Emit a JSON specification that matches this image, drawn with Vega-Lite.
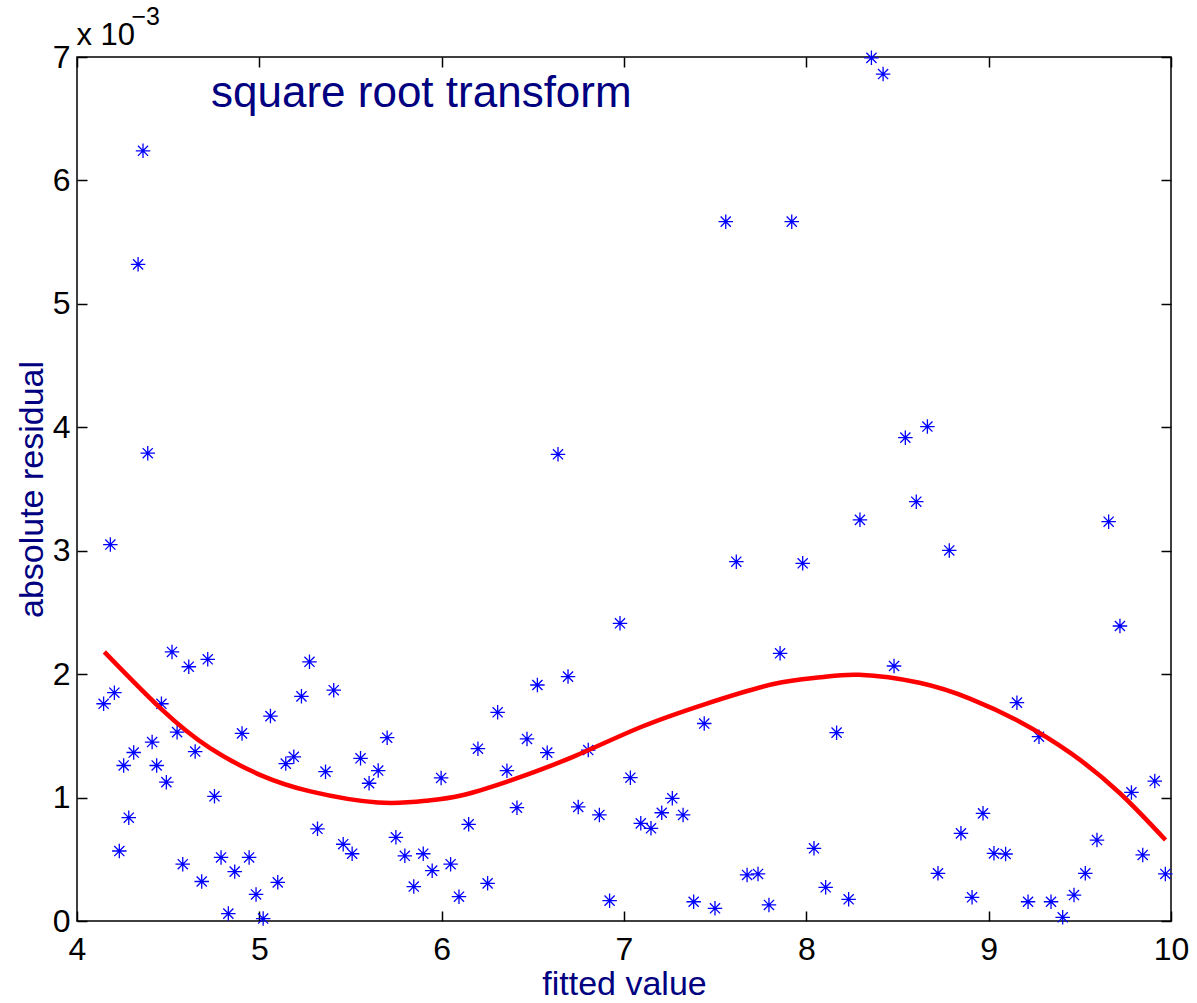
{
  "$schema": "https://vega.github.io/schema/vega-lite/v6.json",
  "width": 1094,
  "height": 864,
  "autosize": {"type": "none"},
  "padding": {"left": 77, "top": 57, "right": 26, "bottom": 82},
  "background": "white",
  "config": {
    "view": {"stroke": "black", "strokeWidth": 1.5},
    "font": "Liberation Sans"
  },
  "datasets": {
    "points": [
      {"fitted": 4.146, "residual": 0.00176},
      {"fitted": 4.183, "residual": 0.00305},
      {"fitted": 4.205, "residual": 0.00185},
      {"fitted": 4.232, "residual": 0.000567},
      {"fitted": 4.256, "residual": 0.00126},
      {"fitted": 4.284, "residual": 0.000837},
      {"fitted": 4.311, "residual": 0.001365},
      {"fitted": 4.335, "residual": 0.00532},
      {"fitted": 4.362, "residual": 0.00624},
      {"fitted": 4.388, "residual": 0.00379},
      {"fitted": 4.412, "residual": 0.00145},
      {"fitted": 4.437, "residual": 0.00126},
      {"fitted": 4.463, "residual": 0.00176},
      {"fitted": 4.49, "residual": 0.001125},
      {"fitted": 4.521, "residual": 0.00218},
      {"fitted": 4.549, "residual": 0.00153},
      {"fitted": 4.58, "residual": 0.00046},
      {"fitted": 4.613, "residual": 0.00206},
      {"fitted": 4.648, "residual": 0.001373},
      {"fitted": 4.684, "residual": 0.00032},
      {"fitted": 4.717, "residual": 0.00212},
      {"fitted": 4.754, "residual": 0.00101},
      {"fitted": 4.79, "residual": 0.000515},
      {"fitted": 4.83, "residual": 0.00006},
      {"fitted": 4.865, "residual": 0.0004},
      {"fitted": 4.905, "residual": 0.00152},
      {"fitted": 4.944, "residual": 0.000515},
      {"fitted": 4.982, "residual": 0.000215},
      {"fitted": 5.021, "residual": 0.00002},
      {"fitted": 5.061, "residual": 0.00166},
      {"fitted": 5.101, "residual": 0.000313},
      {"fitted": 5.145, "residual": 0.001275},
      {"fitted": 5.189, "residual": 0.00133},
      {"fitted": 5.231, "residual": 0.00182},
      {"fitted": 5.275, "residual": 0.0021},
      {"fitted": 5.319, "residual": 0.000747},
      {"fitted": 5.363, "residual": 0.00121},
      {"fitted": 5.408, "residual": 0.00187},
      {"fitted": 5.46, "residual": 0.000622},
      {"fitted": 5.509, "residual": 0.000545},
      {"fitted": 5.555, "residual": 0.001318},
      {"fitted": 5.602, "residual": 0.001116},
      {"fitted": 5.652, "residual": 0.001219},
      {"fitted": 5.701, "residual": 0.001485},
      {"fitted": 5.749, "residual": 0.000678},
      {"fitted": 5.798, "residual": 0.000528},
      {"fitted": 5.847, "residual": 0.000279},
      {"fitted": 5.899, "residual": 0.000545},
      {"fitted": 5.948, "residual": 0.000408},
      {"fitted": 5.997, "residual": 0.001159},
      {"fitted": 6.049, "residual": 0.00046},
      {"fitted": 6.095, "residual": 0.000197},
      {"fitted": 6.148, "residual": 0.000783},
      {"fitted": 6.199, "residual": 0.001396},
      {"fitted": 6.252, "residual": 0.000305},
      {"fitted": 6.307, "residual": 0.001691},
      {"fitted": 6.358, "residual": 0.001218},
      {"fitted": 6.413, "residual": 0.000918},
      {"fitted": 6.468, "residual": 0.001475},
      {"fitted": 6.525, "residual": 0.001912},
      {"fitted": 6.579, "residual": 0.001364},
      {"fitted": 6.638, "residual": 0.003781},
      {"fitted": 6.693, "residual": 0.00198},
      {"fitted": 6.749, "residual": 0.000924},
      {"fitted": 6.804, "residual": 0.001385},
      {"fitted": 6.865, "residual": 0.000859},
      {"fitted": 6.921, "residual": 0.000165},
      {"fitted": 6.978, "residual": 0.002412},
      {"fitted": 7.035, "residual": 0.001161},
      {"fitted": 7.092, "residual": 0.000791},
      {"fitted": 7.148, "residual": 0.000751},
      {"fitted": 7.207, "residual": 0.000877},
      {"fitted": 7.265, "residual": 0.000994},
      {"fitted": 7.324, "residual": 0.000859},
      {"fitted": 7.382, "residual": 0.000156},
      {"fitted": 7.44, "residual": 0.0016},
      {"fitted": 7.499, "residual": 0.000103},
      {"fitted": 7.558, "residual": 0.005666},
      {"fitted": 7.616, "residual": 0.002911},
      {"fitted": 7.675, "residual": 0.000373},
      {"fitted": 7.735, "residual": 0.000381},
      {"fitted": 7.795, "residual": 0.00013},
      {"fitted": 7.856, "residual": 0.002169},
      {"fitted": 7.92, "residual": 0.005666},
      {"fitted": 7.98, "residual": 0.002898},
      {"fitted": 8.042, "residual": 0.000589},
      {"fitted": 8.106, "residual": 0.000273},
      {"fitted": 8.166, "residual": 0.001526},
      {"fitted": 8.232, "residual": 0.000176},
      {"fitted": 8.294, "residual": 0.00325},
      {"fitted": 8.357, "residual": 0.006993},
      {"fitted": 8.421, "residual": 0.006862},
      {"fitted": 8.481, "residual": 0.002066},
      {"fitted": 8.543, "residual": 0.003916},
      {"fitted": 8.603, "residual": 0.003397},
      {"fitted": 8.664, "residual": 0.004006},
      {"fitted": 8.722, "residual": 0.000386},
      {"fitted": 8.784, "residual": 0.003002},
      {"fitted": 8.848, "residual": 0.00071},
      {"fitted": 8.909, "residual": 0.000192},
      {"fitted": 8.969, "residual": 0.000872},
      {"fitted": 9.029, "residual": 0.000548},
      {"fitted": 9.093, "residual": 0.000543},
      {"fitted": 9.155, "residual": 0.001769},
      {"fitted": 9.216, "residual": 0.000156},
      {"fitted": 9.276, "residual": 0.001493},
      {"fitted": 9.342, "residual": 0.000156},
      {"fitted": 9.406, "residual": 0.00003},
      {"fitted": 9.468, "residual": 0.00021},
      {"fitted": 9.53, "residual": 0.000386},
      {"fitted": 9.594, "residual": 0.000656},
      {"fitted": 9.658, "residual": 0.003235},
      {"fitted": 9.72, "residual": 0.00239},
      {"fitted": 9.783, "residual": 0.001042},
      {"fitted": 9.845, "residual": 0.000535},
      {"fitted": 9.911, "residual": 0.001134},
      {"fitted": 9.969, "residual": 0.000381}
    ],
    "fit": [
      {"fitted": 4.15, "residual": 0.00218},
      {"fitted": 4.46, "residual": 0.00172},
      {"fitted": 4.73, "residual": 0.0014},
      {"fitted": 5.01, "residual": 0.00118},
      {"fitted": 5.28, "residual": 0.00105},
      {"fitted": 5.65, "residual": 0.00096},
      {"fitted": 5.92, "residual": 0.000975},
      {"fitted": 6.1, "residual": 0.001015},
      {"fitted": 6.36, "residual": 0.00113},
      {"fitted": 6.72, "residual": 0.00133},
      {"fitted": 7.09, "residual": 0.00157},
      {"fitted": 7.45, "residual": 0.00176},
      {"fitted": 7.82, "residual": 0.00192},
      {"fitted": 8.08, "residual": 0.001975},
      {"fitted": 8.29, "residual": 0.001995},
      {"fitted": 8.62, "residual": 0.00193},
      {"fitted": 8.9, "residual": 0.0018},
      {"fitted": 9.17, "residual": 0.001615},
      {"fitted": 9.45, "residual": 0.00136},
      {"fitted": 9.72, "residual": 0.001035},
      {"fitted": 9.97, "residual": 0.000656}
    ]
  },
  "layer": [
    {
      "data": {"name": "points"},
      "mark": {
        "type": "point",
        "shape": "M-1,0L1,0M0,-1L0,1M-0.7,-0.7L0.7,0.7M-0.7,0.7L0.7,-0.7",
        "filled": false,
        "stroke": "#0000ff",
        "strokeWidth": 1.3,
        "size": 210,
        "opacity": 1
      },
      "encoding": {
        "x": {
          "field": "fitted", "type": "quantitative",
          "scale": {"domain": [4, 10], "nice": false, "zero": false},
          "axis": {
            "orient": "bottom", "values": [4, 5, 6, 7, 8, 9, 10], "format": "d",
            "title": "fitted value", "titleColor": "#000080", "titleFontSize": 34,
            "titleFontWeight": "normal", "titleFont": "Liberation Sans", "titlePadding": 2,
            "labelFont": "Liberation Sans", "labelFontSize": 32, "labelColor": "black",
            "labelPadding": 23, "labelFlush": false, "labelOverlap": false,
            "tickSize": -10, "tickColor": "black", "tickWidth": 1.5,
            "domain": false, "grid": false
          }
        },
        "y": {
          "field": "residual", "type": "quantitative",
          "scale": {"domain": [0, 0.007], "nice": false, "zero": false},
          "axis": {
            "orient": "left", "values": [0, 0.001, 0.002, 0.003, 0.004, 0.005, 0.006, 0.007],
            "labelExpr": "format(datum.value*1000, '.0f')",
            "title": "absolute residual", "titleColor": "#000080", "titleFontSize": 34,
            "titleFontWeight": "normal", "titleFont": "Liberation Sans", "titlePadding": 3,
            "labelFont": "Liberation Sans", "labelFontSize": 32, "labelColor": "black",
            "labelPadding": 17, "labelFlush": false, "labelOverlap": false,
            "tickSize": -10, "tickColor": "black", "tickWidth": 1.5,
            "domain": false, "grid": false
          }
        }
      }
    },
    {
      "data": {"name": "fit"},
      "mark": {"type": "line", "color": "#ff0000", "strokeWidth": 4.5, "interpolate": "natural"},
      "encoding": {
        "x": {
          "field": "fitted", "type": "quantitative",
          "scale": {"domain": [4, 10], "nice": false, "zero": false},
          "axis": {
            "orient": "top", "values": [4, 5, 6, 7, 8, 9, 10], "labels": false, "title": null,
            "tickSize": -10, "tickColor": "black", "tickWidth": 1.5, "domain": false, "grid": false
          }
        },
        "y": {
          "field": "residual", "type": "quantitative",
          "scale": {"domain": [0, 0.007], "nice": false, "zero": false},
          "axis": {
            "orient": "right", "values": [0, 0.001, 0.002, 0.003, 0.004, 0.005, 0.006, 0.007],
            "labels": false, "title": null,
            "tickSize": -10, "tickColor": "black", "tickWidth": 1.5, "domain": false, "grid": false
          }
        }
      }
    },
    {
      "data": {"values": [{}]},
      "mark": {"type": "text", "align": "left", "baseline": "alphabetic", "font": "Liberation Sans", "fontSize": 44, "color": "#000080"},
      "encoding": {
        "x": {"datum": 4.735, "type": "quantitative", "axis": null},
        "y": {"datum": 0.006597, "type": "quantitative", "axis": null},
        "text": {"value": "square root transform"}
      }
    },
    {
      "data": {"values": [{}]},
      "mark": {"type": "text", "align": "left", "baseline": "alphabetic", "font": "Liberation Sans", "fontSize": 31, "color": "black"},
      "encoding": {
        "x": {"datum": 3.997, "type": "quantitative", "axis": null},
        "y": {"datum": 0.007097, "type": "quantitative", "axis": null},
        "text": {"value": "x 10"}
      }
    },
    {
      "data": {"values": [{}]},
      "mark": {"type": "text", "align": "left", "baseline": "alphabetic", "font": "Liberation Sans", "fontSize": 25, "color": "black"},
      "encoding": {
        "x": {"datum": 4.299, "type": "quantitative", "axis": null},
        "y": {"datum": 0.007259, "type": "quantitative", "axis": null},
        "text": {"value": "−3"}
      }
    }
  ],
  "resolve": {"axis": {"x": "independent", "y": "independent"}}
}
